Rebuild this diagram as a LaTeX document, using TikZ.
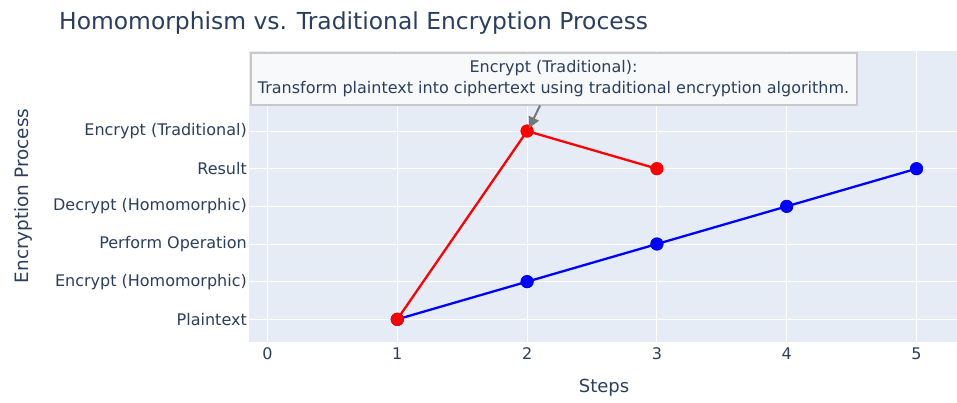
\documentclass[tikz,border=0pt]{standalone}
\usepackage{fontspec}
\setmainfont{DejaVu Sans}
\usetikzlibrary{arrows.meta}
\definecolor{plotbg}{HTML}{E5ECF6}
\definecolor{txt}{HTML}{2A3F5F}
\definecolor{annbg}{HTML}{F8F9FB}
\definecolor{annbd}{HTML}{C8C8C8}
\definecolor{arrgray}{HTML}{777777}
\tikzset{
  grid line/.style={white, line width=1pt},
  ytick/.style={anchor=east, text=txt, font=\fontsize{16}{19}\selectfont, inner sep=0pt},
  xtick/.style={anchor=center, text=txt, font=\fontsize{16}{19}\selectfont, inner sep=0pt},
  homline/.style={blue, line width=2.3pt},
  tradline/.style={red, line width=2.3pt},
  hompt/.style={circle, fill=blue, minimum size=13pt, inner sep=0pt},
  tradpt/.style={circle, fill=red, minimum size=13pt, inner sep=0pt},
}
\newcommand{\PX}[1]{\fpeval{267.5+129.8*(#1)}}
\newcommand{\PY}[1]{\fpeval{319.3-37.65*(#1)}}
\begin{document}
\begin{tikzpicture}[x=1pt,y=-1pt]
\useasboundingbox (0,0) rectangle (957,402);
\fill[white] (0,0) rectangle (957,402);
% plot area
\fill[plotbg] (249,51) rectangle (957,342);
\foreach \i in {0,...,5} {
  \draw[grid line] (\PX{\i},51) -- (\PX{\i},342);
  \node[xtick] (xt\i) at (\PX{\i},354) {\i};
}
\foreach \j in {0,...,5} {
  \draw[grid line] (249,\PY{\j}) -- (957,\PY{\j});
}
\node[ytick] (yt0) at (247,\PY{0}) {Plaintext};
\node[ytick] (yt1) at (247,\PY{1}) {Encrypt (Homomorphic)};
\node[ytick] (yt2) at (247,\PY{2}) {Perform Operation};
\node[ytick] (yt3) at (247,\PY{3}) {Decrypt (Homomorphic)};
\node[ytick] (yt4) at (247,\PY{4}) {Result};
\node[ytick] (yt5) at (247,\PY{5}) {Encrypt (Traditional)};
% titles
\node[anchor=west, text=txt, font=\fontsize{23.4}{28}\selectfont, inner sep=0pt] (title) at (59,23) {Homomorphism vs. Traditional Encryption Process};
\node[text=txt, font=\fontsize{18.4}{22}\selectfont, inner sep=0pt, rotate=90] (ytitle) at (23,196) {Encryption Process};
\node[text=txt, font=\fontsize{18}{22}\selectfont, inner sep=0pt] (xtitle) at (604,388) {Steps};
% homomorphic trace
\node[hompt] (h1) at (\PX{1},\PY{0}) {};
\node[hompt] (h2) at (\PX{2},\PY{1}) {};
\node[hompt] (h3) at (\PX{3},\PY{2}) {};
\node[hompt] (h4) at (\PX{4},\PY{3}) {};
\node[hompt] (h5) at (\PX{5},\PY{4}) {};
\draw[homline] (h1.center) -- (h2.center) -- (h3.center) -- (h4.center) -- (h5.center);
\foreach \k in {1,...,5} { \fill[blue] (h\k) circle (6.5pt); }
% traditional trace
\node[tradpt] (t1) at (\PX{1},\PY{0}) {};
\node[tradpt] (t2) at (\PX{2},\PY{5}) {};
\node[tradpt] (t3) at (\PX{3},\PY{4}) {};
\draw[tradline] (t1.center) -- (t2.center) -- (t3.center);
\foreach \k in {1,2,3} { \fill[red] (t\k) circle (6.5pt); }
% annotation
\node[draw=annbd, line width=2pt, fill=annbg, text=txt, align=center,
      font=\fontsize{16}{21}\selectfont, minimum width=606pt, minimum height=52pt, inner sep=0pt]
      (ann) at (553.5,78.5) {Encrypt (Traditional):\\Transform plaintext into ciphertext using traditional encryption algorithm.};
\coordinate (annfoot) at (540,105.5);
\coordinate (anntip) at (\PX{2}+2,\PY{5}-3);
\draw[arrgray, line width=2pt, -{Triangle[length=11pt,width=11pt]}] (annfoot) -- (anntip);
\end{tikzpicture}
\end{document}
